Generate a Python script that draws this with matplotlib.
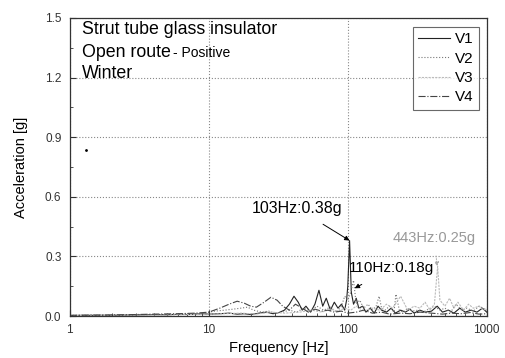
import matplotlib.pyplot as plt
from matplotlib.ticker import FixedLocator, MultipleLocator, NullFormatter

plt.rcParams['font.family'] = ['Liberation Sans', 'DejaVu Sans']

# V1 - solid
freq_v1 = [1.0, 1.3, 2, 3, 4, 5, 6, 7, 8, 9, 10, 12, 14, 16, 18, 20, 23, 26, 29, 32, 35, 38,
           41, 44, 47, 50, 54, 58, 62, 66, 70, 75, 80, 85, 90, 95, 98, 100, 103, 106, 110, 115,
           120, 128, 135, 145, 155, 165, 175, 190, 205, 220, 240, 260, 280, 300, 330, 360, 400,
           440, 480, 530, 580, 640, 700, 770, 850, 930, 1000]
acc_v1 = [0.003, 0.004, 0.004, 0.006, 0.008, 0.007, 0.009, 0.008, 0.01, 0.012, 0.01, 0.012,
          0.015, 0.01, 0.012, 0.008, 0.015, 0.02, 0.012, 0.018, 0.03, 0.06, 0.1, 0.07, 0.03,
          0.05, 0.02, 0.06, 0.13, 0.05, 0.09, 0.03, 0.07, 0.04, 0.06, 0.03, 0.08, 0.15, 0.38,
          0.12, 0.06, 0.09, 0.04, 0.05, 0.02, 0.04, 0.015, 0.05, 0.03, 0.02, 0.04, 0.015, 0.03,
          0.02, 0.035, 0.015, 0.03, 0.02, 0.025, 0.05, 0.02, 0.03, 0.015, 0.04, 0.02, 0.03,
          0.02, 0.04, 0.02]

# V2 - dotted
freq_v2 = [1, 2, 3, 5, 7, 9, 10, 11, 13, 15, 17, 19, 21, 24, 27, 30, 34, 38, 43, 48, 54, 60,
           67, 75, 83, 90, 95, 100, 105, 110, 115, 122, 130, 140, 150, 160, 168, 175, 185, 200,
           215, 222, 235, 250, 270, 290, 320, 350, 380, 420, 460, 500, 550, 600, 660, 720, 800,
           880, 1000]
acc_v2 = [0.004, 0.005, 0.006, 0.008, 0.01, 0.012, 0.02, 0.025, 0.03, 0.035, 0.04, 0.045,
          0.03, 0.02, 0.025, 0.015, 0.02, 0.03, 0.02, 0.04, 0.025, 0.05, 0.03, 0.045, 0.02,
          0.05, 0.1, 0.08, 0.12, 0.18, 0.06, 0.08, 0.04, 0.06, 0.03, 0.05, 0.1, 0.04, 0.03,
          0.05, 0.02, 0.11, 0.03, 0.02, 0.04, 0.025, 0.03, 0.02, 0.035, 0.05, 0.03, 0.04, 0.02,
          0.06, 0.03, 0.04, 0.025, 0.05, 0.03]

# V3 - light
freq_v3 = [1, 2, 3, 5, 7, 10, 13, 17, 22, 28, 35, 45, 55, 65, 75, 85, 95, 105, 115, 130, 150,
           170, 190, 210, 240, 270, 300, 330, 360, 390, 420, 443, 460, 500, 540, 580, 620, 680,
           740, 800, 880, 950, 1000]
acc_v3 = [0.003, 0.004, 0.005, 0.006, 0.008, 0.01, 0.012, 0.015, 0.01, 0.02, 0.015, 0.02,
          0.03, 0.02, 0.035, 0.025, 0.04, 0.03, 0.05, 0.025, 0.04, 0.03, 0.06, 0.04, 0.1, 0.03,
          0.05, 0.04, 0.07, 0.03, 0.06, 0.25, 0.08, 0.05, 0.09, 0.04, 0.07, 0.03, 0.06, 0.04,
          0.05, 0.03, 0.04]

# V4 - dash-dot
freq_v4 = [1, 2, 3, 4, 6, 8, 10, 12, 14, 16, 18, 20, 22, 25, 28, 31, 34, 38, 42, 47, 52, 58,
           65, 72, 80, 90, 100, 115, 130, 150, 175, 200, 240, 280, 330, 400, 480, 560, 650, 760,
           880, 1000]
acc_v4 = [0.004, 0.006, 0.008, 0.01, 0.012, 0.015, 0.02, 0.04, 0.06, 0.075, 0.065, 0.05,
          0.045, 0.07, 0.095, 0.08, 0.05, 0.03, 0.06, 0.04, 0.02, 0.035, 0.025, 0.03, 0.02,
          0.025, 0.015, 0.02, 0.03, 0.015, 0.02, 0.01, 0.015, 0.012, 0.02, 0.015, 0.01, 0.015,
          0.012, 0.018, 0.01, 0.012]

stray_f, stray_a = 1.3, 0.835

fig = plt.figure(figsize=(5.06, 3.58), dpi=100)
ax = fig.add_axes([0.138, 0.117, 0.824, 0.833])

ax.plot(freq_v1, acc_v1, color='#222222', lw=0.8, ls='-', label='V1')
ax.plot(freq_v2, acc_v2, color='#777777', lw=0.8, ls=':', label='V2')
ax.plot(freq_v3, acc_v3, color='#bbbbbb', lw=0.8, ls=(0, (2, 1)), label='V3')
ax.plot(freq_v4, acc_v4, color='#444444', lw=0.8, ls='-.', label='V4')
ax.plot([stray_f], [stray_a], marker='.', ms=2, color='black')

ax.set_xscale('log')
ax.set_xlim(1, 1000)
ax.set_ylim(0, 1.5)
ax.yaxis.set_major_locator(MultipleLocator(0.3))
ax.yaxis.set_minor_locator(MultipleLocator(0.15))
ax.xaxis.set_major_locator(FixedLocator([1, 10, 100, 1000]))
ax.set_xticklabels(['1', '10', '100', '1000'])
ax.xaxis.set_minor_formatter(NullFormatter())
ax.set_yticks([0.0, 0.3, 0.6, 0.9, 1.2, 1.5])
ax.set_yticklabels(['0.0', '0.3', '0.6', '0.9', '1.2', '1.5'])
ax.tick_params(which='both', direction='in', labelsize=8.5, colors='#333333')
ax.tick_params(which='major', length=4, pad=6)
ax.tick_params(which='minor', length=2)
ax.grid(True, which='major', ls=':', color='#888888', lw=0.8)

ax.set_xlabel('Frequency [Hz]', fontsize=10.5, labelpad=3)
ax.set_ylabel('Acceleration [g]', fontsize=10.5, labelpad=12)

ax.text(0.029, 0.96, 'Strut tube glass insulator', transform=ax.transAxes,
        fontsize=12.8, va='center')
ax.text(0.029, 0.883, 'Open route', transform=ax.transAxes, fontsize=12.8, va='center')
ax.text(0.248, 0.883, '- Positive', transform=ax.transAxes, fontsize=10, va='center')
ax.text(0.029, 0.815, 'Winter', transform=ax.transAxes, fontsize=12.8, va='center')

ax.annotate('103Hz:0.38g', xy=(103, 0.38), xytext=(43, 0.543), fontsize=11.5,
            ha='center', va='center',
            arrowprops=dict(arrowstyle='-|>', color='black', lw=0.7, mutation_scale=7,
                            shrinkA=8, shrinkB=0))
ax.annotate('110Hz:0.18g', xy=(112, 0.14), xytext=(208, 0.242), fontsize=11,
            ha='center', va='center',
            arrowprops=dict(arrowstyle='-|>', color='black', lw=0.7, mutation_scale=7,
                            shrinkA=10, shrinkB=0))
ax.annotate('443Hz:0.25g', xy=(440, 0.25), xytext=(417, 0.393), fontsize=10.5,
            ha='center', va='center', color='#999999',
            arrowprops=dict(arrowstyle='-|>', color='#aaaaaa', lw=0.7, ls=':',
                            mutation_scale=6, shrinkA=6, shrinkB=0))

leg = ax.legend(loc='upper right', fontsize=11, frameon=True, fancybox=False,
                edgecolor='#444444', handlelength=2.1, handletextpad=0.3,
                labelspacing=0.35, borderpad=0.35, borderaxespad=0,
                bbox_to_anchor=(0.981, 0.97))
leg.get_frame().set_linewidth(0.8)

for s in ax.spines.values():
    s.set_linewidth(0.9)
    s.set_color('#333333')

fig.savefig('out.png', dpi=100)
